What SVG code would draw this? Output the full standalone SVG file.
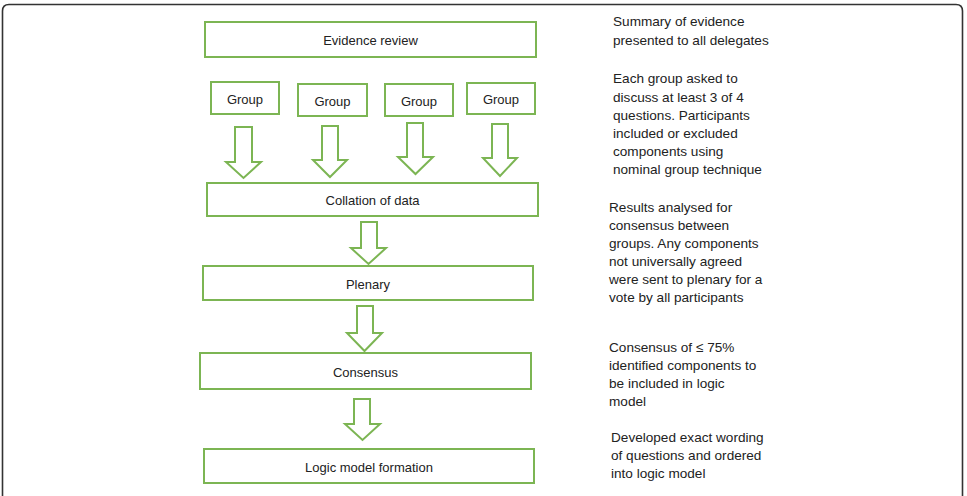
<svg xmlns="http://www.w3.org/2000/svg" width="967" height="496" viewBox="0 0 967 496">
<style>
.box{fill:#fff;stroke:#7cb553;stroke-width:2}
.arr{fill:#fff;stroke:#7cb553;stroke-width:2;stroke-linejoin:miter}
.lbl{font-family:"Liberation Sans",Arial,sans-serif;font-size:13px;fill:#222;text-anchor:middle;dominant-baseline:central}
.note{font-family:"Liberation Sans",Arial,sans-serif;font-size:13.6px;fill:#222}
</style>
<rect width="967" height="496" fill="#fff"/>
<path d="M2.5,496 V11 Q2.5,4.5 9,4.5 H956 Q962.5,4.5 962.5,11 V496" fill="none" stroke="#333" stroke-width="1.6"/>

<g id="evidence-review"><rect class="box" x="205" y="22" width="331" height="35"/><text class="lbl" x="370.5" y="40">Evidence review</text></g>
<g id="group1"><rect class="box" x="211" y="82" width="68" height="32"/><text class="lbl" x="245" y="99">Group</text></g>
<g id="group2"><rect class="box" x="298" y="84" width="69" height="32"/><text class="lbl" x="332.5" y="101">Group</text></g>
<g id="group3"><rect class="box" x="385" y="84" width="68" height="32"/><text class="lbl" x="419" y="101">Group</text></g>
<g id="group4"><rect class="box" x="467" y="83" width="68" height="31"/><text class="lbl" x="501" y="99">Group</text></g>
<g id="collation"><rect class="box" x="207" y="183" width="331" height="33"/><text class="lbl" x="372.5" y="200">Collation of data</text></g>
<g id="plenary"><rect class="box" x="203" y="266" width="330" height="34"/><text class="lbl" x="368" y="284">Plenary</text></g>
<g id="consensus"><rect class="box" x="200" y="353" width="331" height="36"/><text class="lbl" x="365.5" y="372">Consensus</text></g>
<g id="logic-model"><rect class="box" x="204" y="449" width="330" height="34"/><text class="lbl" x="369" y="467">Logic model formation</text></g>

<g id="connectors">
<polygon class="arr" points="235,127 252,127 252,162 261,162 243.5,178 226,162 235,162"/>
<polygon class="arr" points="322,126 338,126 338,160 347,160 330,177 313,160 322,160"/>
<polygon class="arr" points="407,123 423,123 423,157 433,157 415.5,174 398,157 407,157"/>
<polygon class="arr" points="492,124 508,124 508,158 517,158 500,176 483,158 492,158"/>
<polygon class="arr" points="361,222 377,222 377,248 386,248 368.5,264 351,248 361,248"/>
<polygon class="arr" points="357,306 373,306 373,333 382,333 364.5,351 347,333 357,333"/>
<polygon class="arr" points="354,399 370,399 370,424 380,424 362.5,440 345,424 354,424"/>
</g>

<g id="notes">
<text class="note" x="613" y="26">Summary of evidence</text>
<text class="note" x="613" y="45">presented to all delegates</text>
<text class="note" x="613" y="83">Each group asked to</text>
<text class="note" x="613" y="102">discuss at least 3 of 4</text>
<text class="note" x="613" y="120">questions. Participants</text>
<text class="note" x="613" y="138">included or excluded</text>
<text class="note" x="613" y="156">components using</text>
<text class="note" x="613" y="174">nominal group technique</text>
<text class="note" x="609" y="212">Results analysed for</text>
<text class="note" x="609" y="230">consensus between</text>
<text class="note" x="609" y="248">groups. Any components</text>
<text class="note" x="609" y="266">not universally agreed</text>
<text class="note" x="609" y="284">were sent to plenary for a</text>
<text class="note" x="609" y="302">vote by all participants</text>
<text class="note" x="609" y="352">Consensus of ≤ 75%</text>
<text class="note" x="609" y="370">identified components to</text>
<text class="note" x="609" y="388">be included in logic</text>
<text class="note" x="609" y="406">model</text>
<text class="note" x="611" y="442">Developed exact wording</text>
<text class="note" x="611" y="460">of questions and ordered</text>
<text class="note" x="611" y="478">into logic model</text>
</g>
</svg>
